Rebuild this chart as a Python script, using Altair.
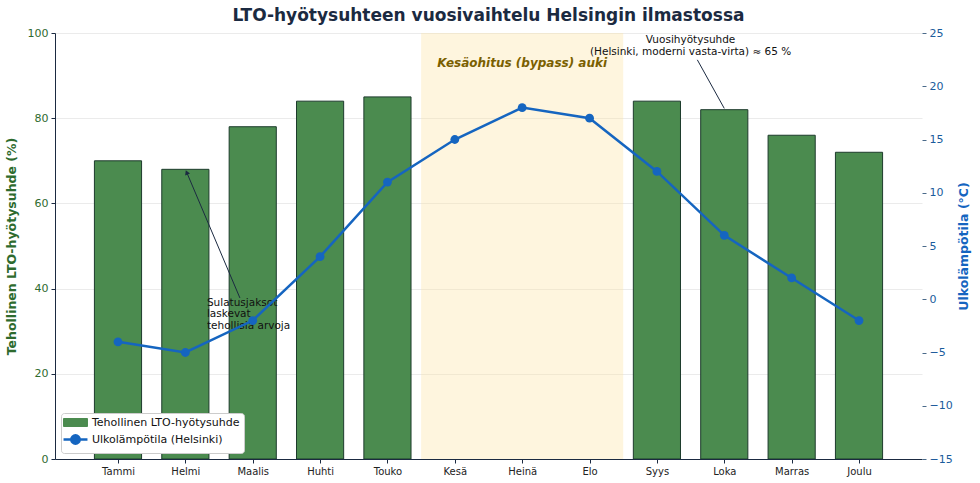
import json, math
import altair as alt
import pandas as pd

# ---- data ----
months = ["Tammi", "Helmi", "Maalis", "Huhti", "Touko", "Kesä",
          "Heinä", "Elo", "Syys", "Loka", "Marras", "Joulu"]
efficiency = [70, 68, 78, 84, 85, None, None, None, 84, 82, 76, 72]
temperature = [-4, -5, -2, 4, 11, 15, 18, 17, 12, 6, 2, -2]
bypass_months = ["Kesä", "Elo"]

S_BAR = "Tehollinen LTO-hyötysuhde"
S_LINE = "Ulkolämpötila (Helsinki)"

# ---- style ----
FONT = "DejaVu Sans"
GREEN = "#4b8b4f"
EDGE = "#1d3b2c"
BLUE = "#1565c0"
AX_GREEN = "#2e6b2e"
AX_BLUE = "#1a5c9c"
NAVY = "#1b2a41"
W, H = 867, 426
BAR_W = 0.7
XDOM = [-0.935, 11.935]
YL = [0, 100]
YR = [-15, 25]

df = pd.DataFrame({
    "idx": list(range(len(months))),
    "month": months,
    "eff": efficiency,
    "temp": temperature,
})

xs = alt.Scale(domain=XDOM, nice=False, zero=False)
yls = alt.Scale(domain=YL, nice=False)
yrs = alt.Scale(domain=YR, nice=False, zero=False)

label_expr = f"{json.dumps(months, ensure_ascii=False)}[datum.value]"
x_axis = alt.Axis(values=list(range(len(months))), labelExpr=label_expr, title=None,
                  grid=False, labelFont=FONT, labelFontSize=10, labelColor="#222222",
                  tickColor=NAVY, domainColor=NAVY, tickSize=4, labelPadding=3, zindex=2)
yl_axis = alt.Axis(
    values=[0, 20, 40, 60, 80, 100], title="Tehollinen LTO-hyötysuhde (%)",
    titleColor=AX_GREEN, titleFont=FONT, titleFontSize=12.5, titleFontWeight="bold",
    labelColor=AX_GREEN, labelFont=FONT, labelFontSize=11, tickColor=NAVY,
    domainColor=NAVY, tickSize=4, labelPadding=3, titlePadding=9,
    grid=True, gridColor="#e6e6e6", gridWidth=0.8)
yr_axis = alt.Axis(
    orient="right", values=list(range(-15, 26, 5)), title="Ulkolämpötila (°C)",
    titleColor=BLUE, titleFont=FONT, titleFontSize=12.5, titleFontWeight="bold",
    titleAngle=270, titleBaseline="bottom",
    labelColor=AX_BLUE, labelFont=FONT, labelFontSize=11, tickColor="#4a6a8a",
    domain=False, tickSize=4, labelPadding=3, titlePadding=18, grid=False, zindex=2)

RECT_PATH = "M-1.71,-0.57L1.71,-0.57L1.71,0.57L-1.71,0.57Z"
LINE_PATH = "M-1.71,0L1.71,0M0.6,0A0.6,0.6,0,1,1,-0.6,0A0.6,0.6,0,1,1,0.6,0Z"
cond = f"datum.value === '{S_BAR}'"
legend = alt.Legend(
    title=None, orient="bottom-left", offset=6, fillColor="white",
    strokeColor="#cccccc", cornerRadius=3, padding=4, labelFont=FONT,
    labelFontSize=11, labelColor="#111111", symbolSize=196, rowPadding=1,
    labelOffset=11, symbolOffset=5, symbolOpacity=1,
    symbolType={"expr": f"{cond} ? '{RECT_PATH}' : '{LINE_PATH}'"},
    symbolStrokeColor={"expr": f"{cond} ? '{EDGE}' : '{BLUE}'"},
    symbolFillColor={"expr": f"{cond} ? '{GREEN}' : '{BLUE}'"},
    symbolStrokeWidth={"expr": f"{cond} ? 1 : 2.5"},
)
color = alt.Color("series:N", scale=alt.Scale(domain=[S_BAR, S_LINE], range=[GREEN, BLUE]),
                  legend=legend)

base = alt.Chart(df)

# bypass span
i0 = months.index(bypass_months[0]) - 0.5
i1 = months.index(bypass_months[1]) + 0.5
span = alt.Chart(pd.DataFrame({"a": [i0], "b": [i1], "lo": [YL[0]], "hi": [YL[1]]})).mark_rect(
    color="#fbe3a0", opacity=0.35).encode(
    x=alt.X("a:Q", scale=xs, axis=x_axis), x2="b:Q",
    y=alt.Y("lo:Q", scale=yls, axis=yl_axis), y2="hi:Q")

bars = base.transform_filter("datum.eff != null").transform_calculate(
    x0=f"datum.idx - {BAR_W/2}", x1=f"datum.idx + {BAR_W/2}", series=f"'{S_BAR}'"
).mark_rect(stroke=EDGE, strokeWidth=1, opacity=1).encode(
    x=alt.X("x0:Q", scale=xs, axis=x_axis), x2="x1:Q",
    y=alt.Y("eff:Q", scale=yls, axis=yl_axis),
    y2=alt.datum(0),
    color=color,
)

# annotations (left scale)
ann_txt = alt.Chart(pd.DataFrame({
    "x": [6.0], "y": [93.0], "t": ["Kesäohitus (bypass) auki"]})).mark_text(
    font=FONT, fontSize=12, fontWeight="bold", fontStyle="italic", color="#7a5f00",
    align="center", baseline="middle").encode(
    x=alt.X("x:Q", scale=xs, axis=x_axis), y=alt.Y("y:Q", scale=yls, axis=yl_axis), text="t:N")

ann2 = alt.Chart(pd.DataFrame({
    "x": [8.5], "y": [99.6],
    "t": ["Vuosihyötysuhde\n(Helsinki, moderni vasta-virta) ≈ 65 %"]})).mark_text(
    font=FONT, fontSize=10.5, color="#111111", align="center", baseline="top",
    lineBreak="\n", lineHeight=12).encode(
    x=alt.X("x:Q", scale=xs, axis=x_axis), y=alt.Y("y:Q", scale=yls, axis=yl_axis), text="t:N")

ann3 = alt.Chart(pd.DataFrame({
    "x": [1.32], "y": [37.9],
    "t": ["Sulatusjaksot\nlaskevat\ntehollisia arvoja"]})).mark_text(
    font=FONT, fontSize=10.5, color="#111111", align="left", baseline="top",
    lineBreak="\n", lineHeight=11.5).encode(
    x=alt.X("x:Q", scale=xs, axis=x_axis), y=alt.Y("y:Q", scale=yls, axis=yl_axis), text="t:N")

arrows = pd.DataFrame({"x": [8.6, 1.81], "y": [93.7, 37.8], "x2": [9.0, 1.02], "y2": [82.3, 67.3]})
arrow_lines = alt.Chart(arrows).mark_rule(color=NAVY, strokeWidth=1).encode(
    x=alt.X("x:Q", scale=xs, axis=x_axis), y=alt.Y("y:Q", scale=yls, axis=yl_axis),
    x2="x2:Q", y2="y2:Q")

px_x = W / (XDOM[1] - XDOM[0])
px_y = H / (YL[1] - YL[0])
dx = (arrows.x2[1] - arrows.x[1]) * px_x
dy = (arrows.y2[1] - arrows.y[1]) * px_y
ang = math.degrees(math.atan2(dx, dy)) % 360
head = alt.Chart(arrows.iloc[[1]]).mark_point(
    shape="triangle-up", filled=True, color=NAVY, size=28, opacity=1, angle=ang).encode(
    x=alt.X("x2:Q", scale=xs, axis=x_axis), y=alt.Y("y2:Q", scale=yls, axis=yl_axis))

left = alt.layer(span, bars, ann_txt, ann2, ann3, arrow_lines, head)

line = base.transform_calculate(series=f"'{S_LINE}'").mark_line(
    strokeWidth=2.5).encode(
    x=alt.X("idx:Q", scale=xs, axis=x_axis),
    y=alt.Y("temp:Q", scale=yrs, axis=yr_axis),
    color=color,
)
pts = base.mark_point(filled=True, size=78, color=BLUE, opacity=1).encode(
    x=alt.X("idx:Q", scale=xs, axis=x_axis),
    y=alt.Y("temp:Q", scale=yrs, axis=yr_axis))
right = alt.layer(line, pts)

chart = alt.layer(left, right).resolve_scale(y="independent").properties(
    width=W, height=H,
    title=alt.TitleParams("LTO-hyötysuhteen vuosivaihtelu Helsingin ilmastossa",
                          font=FONT, fontSize=17, fontWeight="bold", color=NAVY,
                          anchor="middle", offset=2),
    autosize=alt.AutoSizeParams(type="none"),
    padding={"left": 55, "top": 33, "right": 58, "bottom": 24},
    background="white",
).configure_view(strokeWidth=0)

chart.save("out.html", embed_options={"renderer": "svg", "actions": False})
